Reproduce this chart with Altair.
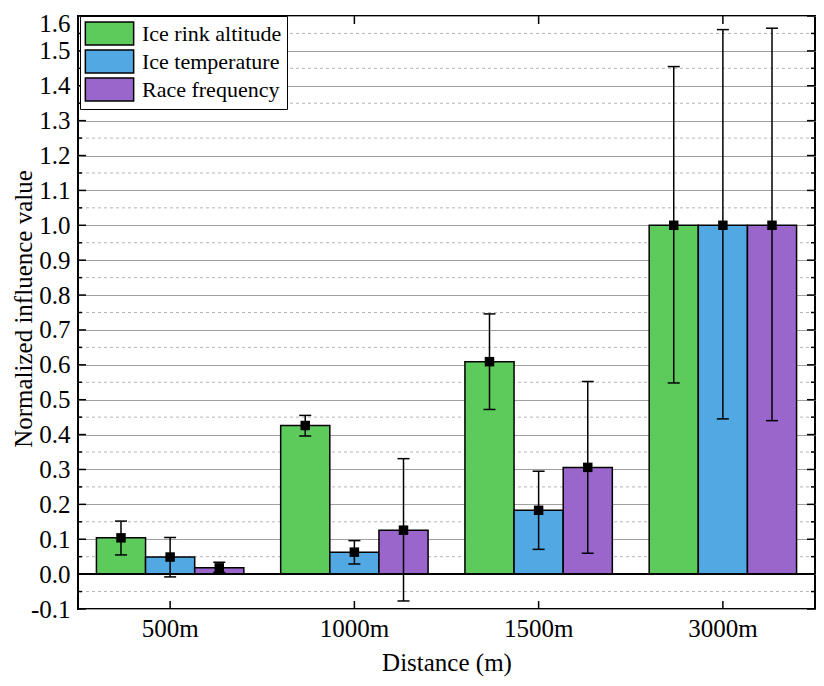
import altair as alt
import pandas as pd

categories = ["500m", "1000m", "1500m", "3000m"]
series = ["Ice rink altitude", "Ice temperature", "Race frequency"]
colors = ["#5DCB5B", "#52A8E2", "#9B66CC"]

alt_mean = [0.104, 0.426, 0.609, 1.0]
alt_low = [0.055, 0.396, 0.472, 0.548]
alt_high = [0.152, 0.455, 0.746, 1.455]

temp_mean = [0.049, 0.063, 0.183, 1.0]
temp_low = [-0.008, 0.029, 0.071, 0.445]
temp_high = [0.105, 0.096, 0.295, 1.561]

freq_mean = [0.018, 0.126, 0.306, 1.0]
freq_low = [0.005, -0.077, 0.060, 0.440]
freq_high = [0.034, 0.331, 0.552, 1.565]

major_ticks = [-0.1, 0.0, 0.1, 0.2, 0.3, 0.4, 0.5, 0.6, 0.7, 0.8, 0.9,
               1.0, 1.1, 1.2, 1.3, 1.4, 1.5, 1.6]
minor_ticks = [-0.05, 0.05, 0.15, 0.25, 0.35, 0.45, 0.55, 0.65, 0.75,
               0.85, 0.95, 1.05, 1.15, 1.25, 1.35, 1.45, 1.55]

W, H = 737, 593
FONT = "Liberation Serif"

rows = []
for s, m, lo, hi in [(series[0], alt_mean, alt_low, alt_high),
                     (series[1], temp_mean, temp_low, temp_high),
                     (series[2], freq_mean, freq_low, freq_high)]:
    for c, mv, lv, hv in zip(categories, m, lo, hi):
        rows.append({"cat": c, "series": s, "mean": mv, "low": lv, "high": hv})
df = pd.DataFrame(rows)
major_df = pd.DataFrame({"v": major_ticks})
minor_df = pd.DataFrame({"v": minor_ticks})
zero_df = pd.DataFrame({"v": [0.0]})
cat_df = pd.DataFrame({"cat": categories})

xscale = alt.Scale(domain=categories, paddingInner=0.2, paddingOuter=0.1)
xoscale = alt.Scale(domain=series, paddingInner=0, paddingOuter=0)
yscale = alt.Scale(domain=[-0.1, 1.6], nice=False, zero=False)

xaxis = alt.Axis(title="Distance (m)", labelAngle=0, labelFont=FONT,
                 labelFontSize=25, labelColor="black",
                 labelBaseline="alphabetic", labelPadding=27,
                 ticks=False, tickSize=0, domain=False, grid=False,
                 titleFont=FONT, titleFontSize=25, titleFontWeight="normal",
                 titleColor="black", titleBaseline="alphabetic",
                 titleY=61, titleX=W / 2)
yaxis = alt.Axis(values=major_ticks, grid=True,
                 labelExpr="datum.value < 0 ? '-' + format(-datum.value, '.1f') : format(datum.value, '.1f')",
                 labelOverlap=False, labelSeparation=0,
                 labelOffset=alt.condition("datum.value > 1.59", alt.value(7), alt.value(0)),
                 gridColor="#a0a0a0", gridWidth=1,
                 ticks=False, tickSize=0, domain=False,
                 labelFont=FONT, labelFontSize=25, labelColor="black",
                 labelPadding=8, labelBaseline="middle",
                 title="Normalized influence value", titleFont=FONT,
                 titleFontSize=25, titleFontWeight="normal",
                 titleColor="black", titleAngle=270,
                 titleBaseline="alphabetic", titleX=-47, titleY=H / 2 - 4)

X = alt.X("cat:N", scale=xscale, sort=categories, axis=xaxis)
XO = alt.XOffset("series:N", scale=xoscale, sort=series)
Yp = lambda f: alt.Y(f, scale=yscale, axis=yaxis)

minor_grid = alt.Chart(minor_df).mark_rule(
    color="#b5b5b5", strokeWidth=1, strokeDash=[3, 3]
).encode(y=Yp("v:Q"))

bars = alt.Chart(df).mark_bar(stroke="black", strokeWidth=1.5, opacity=1).encode(
    x=X,
    xOffset=XO,
    y=Yp("mean:Q"),
    color=alt.Color("series:N", sort=series,
                    scale=alt.Scale(domain=series, range=colors),
                    legend=alt.Legend(title=None, orient="none", legendX=2, legendY=0,
                                      direction="vertical",
                                      symbolType="M-2.1,-1H2.1V1H-2.1Z", symbolSize=529,
                                      symbolOffset=12, labelOffset=20,
                                      symbolStrokeColor="black", symbolStrokeWidth=1.5,
                                      symbolOpacity=1,
                                      labelFont=FONT, labelFontSize=22,
                                      labelColor="black", labelLimit=300,
                                      rowPadding=-1, padding=5,
                                      strokeColor="black", fillColor="white")),
)

zero_line = alt.Chart(zero_df).mark_rule(color="black", strokeWidth=2).encode(
    y=Yp("v:Q"))

err = alt.Chart(df).mark_rule(color="black", strokeWidth=1.5).encode(
    x=X, xOffset=XO, y=Yp("low:Q"), y2="high:Q")

cap_lo = alt.Chart(df).mark_tick(color="black", size=12, thickness=1.5,
                                 orient="horizontal", opacity=1).encode(
    x=X, xOffset=XO, y=Yp("low:Q"))
cap_hi = alt.Chart(df).mark_tick(color="black", size=12, thickness=1.5,
                                 orient="horizontal", opacity=1).encode(
    x=X, xOffset=XO, y=Yp("high:Q"))

squares = alt.Chart(df).mark_square(size=90, color="black", filled=True, opacity=1).encode(
    x=X, xOffset=XO, y=Yp("mean:Q"))

def ytick(data, x1, x2):
    return alt.Chart(data).mark_rule(color="black", strokeWidth=1.5).encode(
        y=Yp("v:Q"), x=alt.value(x1), x2=alt.value(x2))

left_major = ytick(major_df, 0, 8)
left_minor = ytick(minor_df, 0, 4)
right_major = ytick(major_df, W, W - 8)
right_minor = ytick(minor_df, W, W - 4)

bottom_ticks = alt.Chart(cat_df).mark_rule(color="black", strokeWidth=1.5).encode(
    x=X, y=alt.value(H), y2=alt.value(H - 8))
top_ticks = alt.Chart(cat_df).mark_rule(color="black", strokeWidth=1.5).encode(
    x=X, y=alt.value(0), y2=alt.value(8))

chart = alt.layer(
    minor_grid, bars, zero_line, err, cap_lo, cap_hi, squares,
    left_major, left_minor, right_major, right_minor, bottom_ticks, top_ticks
).properties(
    width=W, height=H,
    autosize=alt.AutoSizeParams(type="none"),
    padding={"left": 70, "top": 8, "right": 1, "bottom": 69},
    background="white",
).configure_view(
    stroke="black", strokeWidth=2, fill="white"
).configure_axis(
    labelOverlap=False
)

chart.save("out.html", embed_options={"renderer": "svg", "actions": False})
